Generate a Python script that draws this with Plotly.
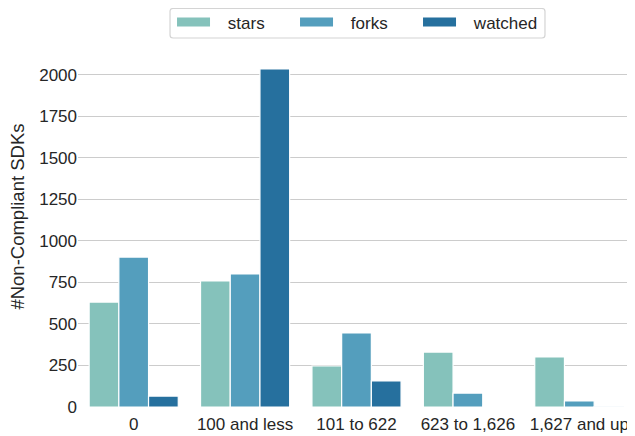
import plotly.graph_objects as go

categories = ["0", "100 and less", "101 to 622", "623 to 1,626", "1,627 and up"]
stars = [632, 759, 247, 331, 301]
forks = [903, 801, 446, 84, 36]
watched = [66, 2036, 157, 5, 1]
y_ticks = [0, 250, 500, 750, 1000, 1250, 1500, 1750, 2000]

series = [("stars", stars, "rgb(133,194,187)"),
          ("forks", forks, "rgb(84,158,189)"),
          ("watched", watched, "rgb(38,112,158)")]

fig = go.Figure()
for name, vals, col in series:
    fig.add_trace(go.Bar(x=categories, y=vals, name=name, showlegend=False,
                         marker=dict(color=col, line=dict(color="white", width=1.2))))
# legend entries drawn as wide swatches
pad = "\u00a0\u00a0\u2009"
for name, vals, col in series:
    fig.add_trace(go.Scatter(x=[None], y=[None], name=pad + name, mode="lines",
                             line=dict(color=col, width=9)))

# rounded legend frame (paper coords)
x0, x1, y0, y1 = 0.1652, 0.8384, 1.0394, 1.1225
rx, ry = 3 / 557, 3 / 355
frame = (f"M{x0+rx},{y1} L{x1-rx},{y1} Q{x1},{y1} {x1},{y1-ry} L{x1},{y0+ry} "
         f"Q{x1},{y0} {x1-rx},{y0} L{x0+rx},{y0} Q{x0},{y0} {x0},{y0+ry} "
         f"L{x0},{y1-ry} Q{x0},{y1} {x0+rx},{y1} Z")

fig.update_layout(
    width=635, height=436,
    margin=dict(l=70, r=8, t=44, b=37, autoexpand=False),
    paper_bgcolor="white", plot_bgcolor="white",
    font=dict(family="Liberation Sans, Arial, sans-serif", size=17, color="#262626"),
    barmode="group", bargap=0.2, bargroupgap=0,
    legend=dict(orientation="h", x=0.1688, xanchor="left", y=1.0831, yanchor="middle",
                borderwidth=0, bgcolor="rgba(0,0,0,0)",
                itemwidth=33, entrywidth=75, entrywidthmode="pixels",
                font=dict(size=17)),
    shapes=[dict(type="path", path=frame, xref="paper", yref="paper",
                 line=dict(color="#d4d4d4", width=1.2), fillcolor="rgba(0,0,0,0)")],
    xaxis=dict(showgrid=False, showline=False, ticks="", tickfont=dict(size=17),
               range=[-0.5, 4.5], automargin=False, ticklabelstandoff=5),
    yaxis=dict(range=[0, 2138], tickvals=y_ticks, showgrid=True, gridcolor="#cccccc",
               gridwidth=1.2, zeroline=False, ticks="",
               tickfont=dict(size=17), automargin=False),
    annotations=[dict(text="#Non-Compliant SDKs", textangle=-90, xref="paper", yref="paper",
                      x=-0.1086, y=0.535, xanchor="center", yanchor="middle",
                      showarrow=False, font=dict(size=18.5))],
)

fig.write_html("out.html")
